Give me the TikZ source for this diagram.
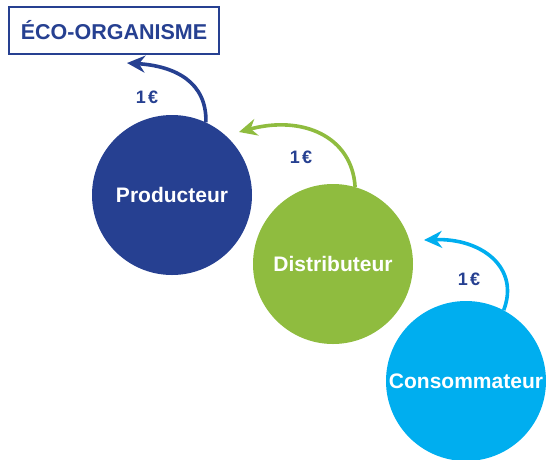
\documentclass[tikz,border=0pt]{standalone}
\usepackage{fontspec}
\setmainfont{Liberation Sans}
\usetikzlibrary{arrows.meta}
\definecolor{ecoblue}{RGB}{38,64,145}
\definecolor{ecogreen}{RGB}{143,188,63}
\definecolor{ecocyan}{RGB}{0,174,239}
\tikzset{
  actor/.style={circle, minimum size=160pt, inner sep=0pt, text=white, font=\bfseries\fontsize{21}{25}\selectfont},
  flow/.style={line width=3.6pt, -{Stealth[length=18pt, width=17pt, inset=6pt]}},
  amount/.style={text=ecoblue, font=\bfseries\fontsize{18}{21}\selectfont},
}
\begin{document}
\begin{tikzpicture}[x=1pt,y=-1pt]
\useasboundingbox (0,0) rectangle (546,459);
\begin{scope}
\clip (0,0) rectangle (546,459);
\node[draw=ecoblue, line width=2pt, fill=white, minimum width=210pt, minimum height=47pt, inner sep=0pt, text=ecoblue, font=\bfseries\fontsize{21.5}{25}\selectfont] (eco) at (114,30.5) {ÉCO-ORGANISME};
\node[actor, fill=ecoblue] (prod) at (172,195) {Producteur};
\node[actor, fill=ecogreen] (dist) at (333,264) {Distributeur};
\node[actor, fill=ecocyan] (cons) at (466,381) {Consommateur};
\coordinate (tipA) at (127,63);
\coordinate (tipB) at (239,132);
\coordinate (tipC) at (424,240);
\draw[flow, ecoblue] (prod.65) .. controls (207,82) and (175,66) .. (tipA);
\draw[flow, ecogreen] (dist.74) .. controls (352,136) and (302,115) .. (tipB);
\draw[flow, ecocyan] (cons.62) .. controls (520,268) and (482,238) .. (tipC);
\node[amount] (la) at (147,97) {1\kern0.12em€};
\node[amount] (lb) at (301,157) {1\kern0.12em€};
\node[amount] (lc) at (469,279) {1\kern0.12em€};
\end{scope}
\end{tikzpicture}
\end{document}
